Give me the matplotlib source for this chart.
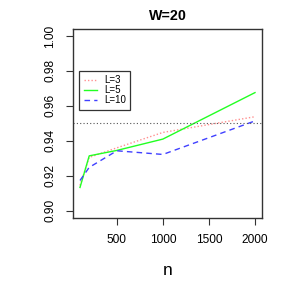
import matplotlib
matplotlib.use('Agg')
import matplotlib.pyplot as plt

# sample sizes and coverage for each L
n = [100, 200, 500, 1000, 2000]
cov_L3 = [0.9145, 0.9305, 0.9360, 0.9448, 0.9538]
cov_L5 = [0.9133, 0.9314, 0.9345, 0.9410, 0.9676]
cov_L10 = [0.9173, 0.9248, 0.9343, 0.9322, 0.9514]
nominal = 0.95

xticks = [500, 1000, 1500, 2000]
yticks = [0.90, 0.92, 0.94, 0.96, 0.98, 1.00]

plt.rcParams['font.family'] = ['Liberation Sans', 'DejaVu Sans']

fig = plt.figure(figsize=(2.91, 2.91), dpi=100)
ax = fig.add_axes([73 / 291, 1 - 217.7 / 291, 189 / 291, 188.7 / 291])

ax.plot(n, cov_L3, color='#ff9090', lw=1.0, ls=(0, (1, 1.5)), label='L=3')
ax.plot(n, cov_L5, color='#22ff22', lw=1.0, ls='-', label='L=5')
ax.plot(n, cov_L10, color='#4040ff', lw=1.0, ls=(0, (4, 3)), label='L=10')
ax.axhline(nominal, color='#555555', lw=0.8, ls=(0, (1, 2)))

ax.set_xlim(24, 2076)
ax.set_ylim(0.896, 1.004)
ax.set_xticks(xticks)
ax.set_xticklabels([str(t) for t in xticks])
ax.set_yticks(yticks)
ax.set_yticklabels(['%.2f' % t for t in yticks], rotation=90, va='center')

ax.tick_params(axis='both', direction='out', length=5, width=0.8,
               labelsize=8.6, color='#333333')
ax.tick_params(axis='x', pad=7)
ax.tick_params(axis='y', pad=7)
for s in ax.spines.values():
    s.set_linewidth(1.0)
    s.set_color('#333333')

ax.set_title('W=20', fontsize=10.3, fontweight='bold', pad=6.5)
ax.set_xlabel('n', fontsize=12.5)
ax.xaxis.set_label_coords(0.5, -0.24)

leg = ax.legend(loc='upper left', bbox_to_anchor=(0.033, 0.777), fontsize=7.0,
                frameon=True, fancybox=False, framealpha=1, edgecolor='#333333',
                handlelength=1.4, handletextpad=0.7, labelspacing=0.0,
                borderpad=0.45, borderaxespad=0)
leg.get_frame().set_linewidth(0.9)

fig.savefig('out.png', dpi=100)
